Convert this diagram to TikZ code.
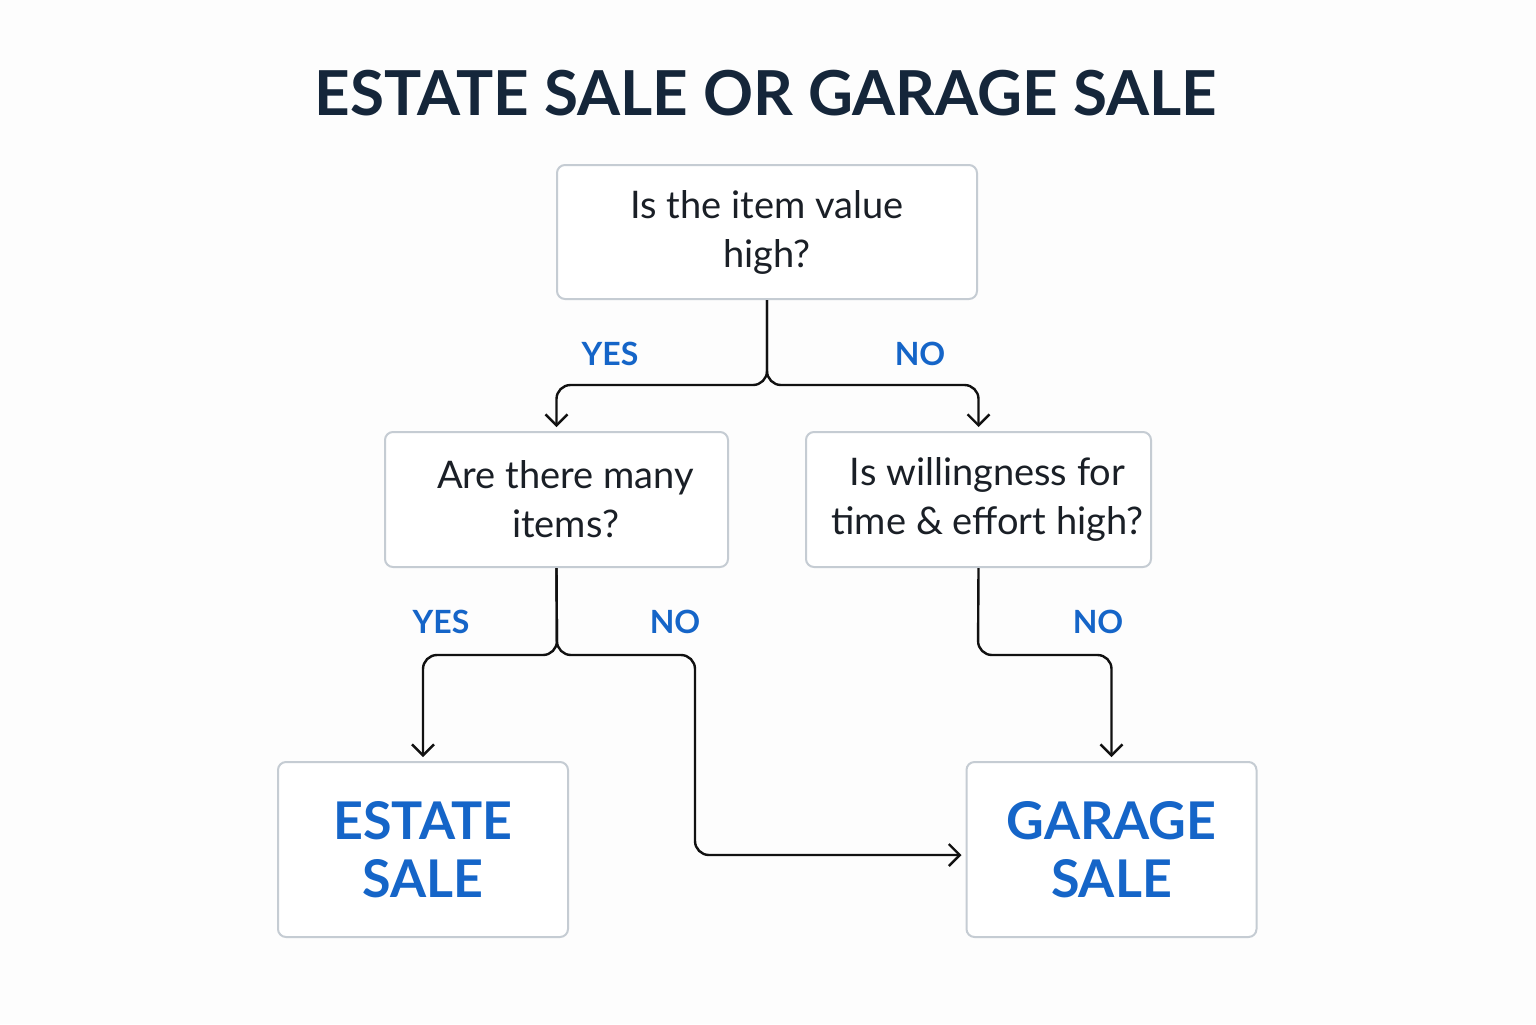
\documentclass[tikz,border=0pt]{standalone}
\usepackage{fontspec}
\setmainfont{Lato}
\usetikzlibrary{arrows.meta}
\definecolor{titlec}{HTML}{15263A}
\definecolor{textc}{HTML}{1A1F26}
\definecolor{bluec}{HTML}{1565C8}
\definecolor{borderc}{HTML}{C5CCD3}
\definecolor{linec}{HTML}{111111}
\definecolor{bgc}{HTML}{FDFDFD}
\tikzset{
  qbox/.style={draw=borderc, line width=1pt, rounded corners=4pt, fill=white,
    align=center, text=textc, font=\fontsize{19}{24.5}\selectfont, inner sep=0pt},
  abox/.style={draw=borderc, line width=1pt, rounded corners=4pt, fill=white,
    align=center, text=bluec, font=\fontsize{26}{29}\selectfont\bfseries, inner sep=0pt,
    minimum width=145pt, minimum height=87.5pt},
  conn/.style={draw=linec, line width=1.2pt, rounded corners=7pt,
    -{Straight Barb[length=5.5pt,width=11pt,line width=1.2pt]}, shorten >=2pt},
  lbl/.style={text=bluec, font=\fontsize{16}{18}\selectfont\bfseries},
}
\begin{document}
\begin{tikzpicture}[x=0.5pt,y=-0.5pt]
\useasboundingbox[fill=bgc] (0,0) rectangle (1536,1024);
\node[text=titlec, font=\fontsize{31}{40}\selectfont\bfseries] (title) at (766,93) {ESTATE SALE OR GARAGE SALE};
\node[qbox, minimum width=210pt, minimum height=67pt] (top) at (767,232) {Is the item value\\high?};
\node[qbox, minimum width=171.5pt, minimum height=67.5pt] (l) at (556.5,499.5) {\hspace*{9pt}Are there many\\\hspace*{9pt}items?};
\node[qbox, minimum width=172.5pt, minimum height=67.5pt] (r) at (978.5,499.5) {\hspace*{9pt}Is willingness for\\\hspace*{9pt}time \& effort high?};
\node[abox] (estate) at (423,849.5) {ESTATE\\SALE};
\node[abox] (garage) at (1111.5,849.5) {GARAGE\\SALE};
\coordinate (j1) at (767,385);
\coordinate (j2) at (557,655);
\coordinate (j3) at (978,655);
\coordinate (k1) at (695,655);
\coordinate (k2) at (695,855);
\coordinate (y855) at (0,855);
\draw[conn] (top.south) -- (j1) -| (l.north);
\draw[conn] (top.south) -- (j1) -| (r.north);
\draw[conn] (l.south) -- (j2) -| (estate.north);
\draw[conn] (l.south) -- (j2) -- (k1) -- (k2) -- (garage.west |- y855);
\draw[conn] (r.south) -- (j3) -| (garage.north);
\node[lbl] (yes1) at (610,354) {YES};
\node[lbl] (no1) at (920,354) {NO};
\node[lbl] (yes2) at (441,622) {YES};
\node[lbl] (no2) at (675,622) {NO};
\node[lbl] (no3) at (1098,622) {NO};
\end{tikzpicture}
\end{document}
